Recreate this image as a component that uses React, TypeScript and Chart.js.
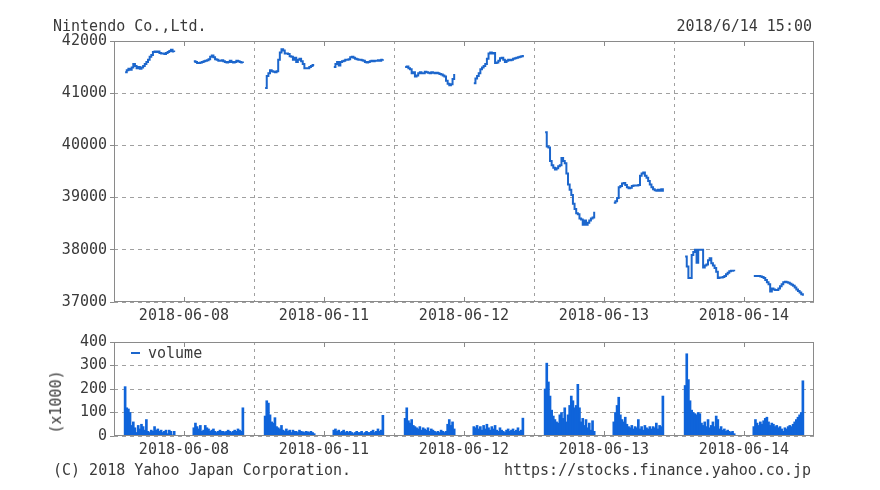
import React, { useEffect, useRef } from 'react';
import { Chart, registerables } from 'chart.js';

Chart.register(...registerables);

// ---------- text ----------
const TITLE = 'Nintendo Co.,Ltd.';
const STAMP = '2018/6/14 15:00';
const COPYRIGHT = '(C) 2018 Yahoo Japan Corporation.';
const SOURCE = 'https://stocks.finance.yahoo.co.jp';
const VOLUME_LABEL = 'volume';
const VOLUME_UNIT = '(x1000)';

// ---------- categories ----------
const DAYS = ['2018-06-08', '2018-06-11', '2018-06-12', '2018-06-13', '2018-06-14'];
const AM_TIMES = ['09:00', '09:05', '09:10', '09:15', '09:20', '09:25', '09:30', '09:35', '09:40', '09:45', '09:50', '09:55', '10:00', '10:05', '10:10', '10:15', '10:20', '10:25', '10:30', '10:35', '10:40', '10:45', '10:50', '10:55', '11:00', '11:05', '11:10', '11:15', '11:20', '11:25', '11:30'];
const PM_TIMES = ['12:30', '12:35', '12:40', '12:45', '12:50', '12:55', '13:00', '13:05', '13:10', '13:15', '13:20', '13:25', '13:30', '13:35', '13:40', '13:45', '13:50', '13:55', '14:00', '14:05', '14:10', '14:15', '14:20', '14:25', '14:30', '14:35', '14:40', '14:45', '14:50', '14:55', '15:00'];

// ---------- price (yen) ----------
const AM_0608 = [41400, 41440, 41470, 41450, 41490, 41560, 41520, 41480, 41500, 41470, 41490, 41520, 41560, 41600, 41640, 41700, 41730, 41790, 41800, 41790, 41800, 41770, 41760, 41760, 41750, 41770, 41790, 41810, 41830, 41800, 41790];
const PM_0608 = [41610, 41600, 41580, 41580, 41590, 41600, 41610, 41620, 41630, 41650, 41700, 41720, 41690, 41650, 41640, 41620, 41620, 41630, 41610, 41600, 41590, 41600, 41620, 41600, 41590, 41600, 41620, 41610, 41600, 41590, 41580];
const AM_0611 = [41100, 41330, 41380, 41440, 41420, 41410, 41400, 41420, 41640, 41780, 41840, 41820, 41760, 41760, 41750, 41710, 41700, 41640, 41680, 41600, 41640, 41660, 41610, 41560, 41480, 41480, 41480, 41500, 41520, 41540, 41540];
const PM_0611 = [41500, 41560, 41600, 41530, 41600, 41610, 41620, 41640, 41640, 41650, 41690, 41700, 41680, 41660, 41650, 41640, 41640, 41630, 41620, 41600, 41590, 41600, 41610, 41620, 41610, 41620, 41620, 41630, 41620, 41640, 41650];
const AM_0612 = [41500, 41510, 41480, 41460, 41380, 41400, 41320, 41340, 41380, 41400, 41380, 41380, 41410, 41400, 41390, 41380, 41400, 41390, 41380, 41390, 41380, 41370, 41360, 41340, 41320, 41240, 41180, 41150, 41170, 41270, 41370];
const PM_0612 = [41190, 41280, 41330, 41380, 41460, 41490, 41520, 41560, 41660, 41760, 41780, 41760, 41770, 41580, 41590, 41620, 41670, 41680, 41640, 41600, 41620, 41640, 41630, 41640, 41660, 41670, 41680, 41690, 41700, 41710, 41730];
const AM_0613 = [40250, 39980, 39960, 39700, 39620, 39570, 39540, 39560, 39600, 39620, 39760, 39700, 39660, 39460, 39250, 39150, 39050, 38880, 38780, 38700, 38680, 38600, 38580, 38480, 38560, 38480, 38520, 38560, 38600, 38620, 38730];
const PM_0613 = [38900, 38930, 38990, 39200, 39220, 39270, 39280, 39240, 39200, 39180, 39190, 39220, 39230, 39230, 39230, 39240, 39420, 39460, 39480, 39420, 39380, 39320, 39250, 39200, 39160, 39140, 39130, 39150, 39130, 39160, 39110];
const AM_0614 = [37870, 37680, 37460, 37460, 37900, 37960, 38000, 37750, 38000, 38000, 38000, 37660, 37700, 37720, 37800, 37840, 37740, 37700, 37650, 37580, 37460, 37470, 37470, 37480, 37500, 37530, 37560, 37590, 37600, 37600, 37590];
const PM_0614 = [37500, 37500, 37500, 37500, 37490, 37480, 37460, 37420, 37380, 37340, 37200, 37260, 37240, 37230, 37230, 37260, 37300, 37340, 37380, 37390, 37380, 37370, 37350, 37330, 37310, 37280, 37240, 37210, 37180, 37150, 37120];

// ---------- volume (x1000 shares) ----------
const VOL_AM_0608 = [210, 120, 115, 100, 45, 60, 35, 15, 45, 30, 50, 40, 25, 70, 20, 15, 25, 20, 40, 25, 30, 20, 25, 15, 20, 25, 10, 25, 20, 5, 20];
const VOL_PM_0608 = [35, 55, 40, 30, 45, 20, 25, 45, 35, 30, 20, 25, 30, 20, 15, 20, 25, 20, 20, 15, 20, 25, 20, 15, 20, 25, 20, 30, 25, 20, 120];
const VOL_AM_0611 = [85, 150, 140, 90, 60, 55, 78, 40, 35, 30, 45, 25, 20, 30, 20, 25, 15, 25, 20, 20, 15, 25, 20, 18, 15, 20, 18, 15, 20, 15, 10];
const VOL_PM_0611 = [25, 30, 20, 25, 15, 20, 25, 15, 20, 15, 20, 15, 10, 15, 20, 15, 15, 20, 10, 15, 20, 15, 15, 20, 25, 15, 20, 30, 20, 25, 88];
const VOL_AM_0612 = [75, 120, 65, 55, 70, 45, 40, 35, 30, 40, 25, 35, 30, 25, 35, 20, 30, 25, 20, 15, 20, 15, 25, 20, 15, 20, 50, 70, 45, 60, 30];
const VOL_PM_0612 = [40, 35, 45, 30, 40, 25, 45, 30, 50, 35, 25, 40, 30, 45, 25, 20, 35, 25, 20, 15, 25, 30, 20, 25, 30, 20, 25, 35, 20, 25, 76];
const VOL_AM_0613 = [200, 310, 230, 170, 110, 85, 70, 60, 55, 90, 100, 75, 120, 60, 90, 130, 170, 150, 120, 130, 220, 120, 60, 75, 45, 70, 35, 55, 25, 65, 20];
const VOL_PM_0613 = [60, 100, 130, 165, 90, 70, 60, 80, 50, 40, 35, 45, 30, 40, 35, 70, 30, 40, 25, 45, 35, 30, 40, 30, 40, 35, 55, 30, 45, 40, 170];
const VOL_AM_0614 = [215, 350, 240, 150, 110, 100, 95, 90, 100, 95, 55, 45, 60, 40, 70, 35, 45, 60, 40, 85, 70, 30, 40, 25, 30, 20, 25, 20, 15, 20, 10];
const VOL_PM_0614 = [40, 70, 55, 45, 60, 50, 65, 75, 80, 60, 45, 55, 50, 40, 45, 35, 40, 30, 20, 35, 30, 40, 45, 40, 50, 60, 70, 80, 90, 100, 235];

const PRICE_AM = [AM_0608, AM_0611, AM_0612, AM_0613, AM_0614];
const PRICE_PM = [PM_0608, PM_0611, PM_0612, PM_0613, PM_0614];
const VOL_AM = [VOL_AM_0608, VOL_AM_0611, VOL_AM_0612, VOL_AM_0613, VOL_AM_0614];
const VOL_PM = [VOL_PM_0608, VOL_PM_0611, VOL_PM_0612, VOL_PM_0613, VOL_PM_0614];

// ---------- axis ranges ----------
const PRICE_MIN = 37000;
const PRICE_MAX = 42000;
const PRICE_STEP = 1000;
const VOL_MIN = 0;
const VOL_MAX = 400;
const VOL_STEP = 100;

// ---------- styles ----------
const FONT_FAMILY = '"DejaVu Sans Mono", monospace';
const FONT_SIZE = 15;
const TEXT = '#3a3a3a';
const GRID = '#a0a0a0';
const FRAME = '#8a8a8a';
const LINE_BLUE = '#1c66cc';
const BAR_BLUE = '#0f64da';
const DAY_SPAN = 428; // minutes of axis per trading day
const AXIS_ORIGIN = '08:26';

const toMin = (t: string) => {
  const [h, m] = t.split(':').map(Number);
  return h * 60 + m;
};
const xOf = (day: number, t: string) => day * DAY_SPAN + toMin(t) - toMin(AXIS_ORIGIN);

function buildPrice() {
  const pts: { x: number; y: number | null }[] = [];
  DAYS.forEach((_, d) => {
    AM_TIMES.forEach((t, i) => pts.push({ x: xOf(d, t), y: PRICE_AM[d][i] }));
    pts.push({ x: xOf(d, '12:00'), y: null });
    PM_TIMES.forEach((t, i) => pts.push({ x: xOf(d, t), y: PRICE_PM[d][i] }));
    pts.push({ x: (d + 1) * DAY_SPAN, y: null });
  });
  return pts;
}

function buildVolume() {
  const pts: { x: number; y: number }[] = [];
  DAYS.forEach((_, d) => {
    AM_TIMES.forEach((t, i) => pts.push({ x: xOf(d, t), y: VOL_AM[d][i] }));
    PM_TIMES.forEach((t, i) => pts.push({ x: xOf(d, t), y: VOL_PM[d][i] }));
  });
  return pts;
}

const font = { family: FONT_FAMILY, size: FONT_SIZE };

function xScale() {
  const half = DAY_SPAN / 2;
  return {
    type: 'linear',
    min: 0,
    max: DAYS.length * DAY_SPAN,
    offset: false,
    afterBuildTicks: (s: any) => {
      s.ticks = Array.from({ length: DAYS.length * 2 + 1 }, (_, k) => ({ value: k * half }));
    },
    afterFit: (s: any) => {
      s.height = 24;
    },
    grid: {
      offset: false,
      drawTicks: false,
      lineWidth: 1,
      color: (c: any) => {
        const v = c.tick ? c.tick.value : 0;
        const k = Math.round(v / half);
        return k % 2 === 0 && k > 0 && k < DAYS.length * 2 ? GRID : 'rgba(0,0,0,0)';
      },
    },
    border: { display: false, dash: [3, 4] },
    ticks: {
      autoSkip: false,
      maxRotation: 0,
      minRotation: 0,
      padding: 5,
      color: TEXT,
      font,
      callback: (v: any) => {
        const k = Math.round(Number(v) / half);
        return k % 2 === 1 ? DAYS[(k - 1) / 2] : '';
      },
    },
  };
}

function yScale(min: number, max: number, step: number) {
  return {
    type: 'linear',
    min,
    max,
    afterFit: (s: any) => {
      s.width = 114;
    },
    grid: { color: GRID, lineWidth: 1, drawTicks: true, tickLength: 4, tickColor: FRAME, tickBorderDash: [] },
    border: { display: false, dash: [4, 4] },
    ticks: { stepSize: step, padding: 3, color: TEXT, font, callback: (v: any) => String(v) },
  };
}

const framePlugin = {
  id: 'frame',
  afterDraw(chart: any) {
    const { ctx, chartArea: a, scales } = chart;
    const x = scales.x;
    ctx.save();
    ctx.strokeStyle = FRAME;
    ctx.lineWidth = 1;
    ctx.setLineDash([]);
    ctx.strokeRect(a.left + 0.5, a.top + 0.5, a.right - a.left - 1, a.bottom - a.top - 1);
    ctx.beginPath();
    DAYS.forEach((_, i) => {
      const px = Math.round(x.getPixelForValue((i + 0.5) * DAY_SPAN)) + 0.5;
      ctx.moveTo(px, a.top);
      ctx.lineTo(px, a.top + 5);
      ctx.moveTo(px, a.bottom);
      ctx.lineTo(px, a.bottom - 5);
    });
    ctx.stroke();
    ctx.restore();
  },
};

export default function App() {
  const priceRef = useRef<HTMLCanvasElement>(null);
  const volRef = useRef<HTMLCanvasElement>(null);

  useEffect(() => {
    const priceChart = new Chart(priceRef.current as HTMLCanvasElement, {
      type: 'line',
      data: {
        datasets: [
          {
            label: 'price',
            data: buildPrice() as any,
            borderColor: LINE_BLUE,
            borderWidth: 2,
            pointRadius: 0,
            stepped: true,
            spanGaps: false,
            fill: false,
          },
        ],
      },
      options: {
        responsive: false,
        animation: false,
        devicePixelRatio: 1,
        events: [],
        layout: { padding: { left: 0, right: 66, top: 41, bottom: 4 } },
        plugins: { legend: { display: false }, tooltip: { enabled: false } },
        scales: { x: xScale() as any, y: yScale(PRICE_MIN, PRICE_MAX, PRICE_STEP) as any },
      },
      plugins: [framePlugin],
    });

    const volChart = new Chart(volRef.current as HTMLCanvasElement, {
      type: 'bar',
      data: {
        datasets: [
          {
            label: VOLUME_LABEL,
            data: buildVolume() as any,
            backgroundColor: BAR_BLUE,
            borderWidth: 0,
            barThickness: 2,
          },
        ],
      },
      options: {
        responsive: false,
        animation: false,
        devicePixelRatio: 1,
        events: [],
        layout: { padding: { left: 0, right: 66, top: 11, bottom: 30 } },
        plugins: { legend: { display: false }, tooltip: { enabled: false } },
        scales: { x: xScale() as any, y: yScale(VOL_MIN, VOL_MAX, VOL_STEP) as any },
      },
      plugins: [framePlugin],
    });

    return () => {
      priceChart.destroy();
      volChart.destroy();
    };
  }, []);

  const textBase: React.CSSProperties = {
    position: 'absolute',
    whiteSpace: 'pre',
    lineHeight: 'normal',
    fontFamily: FONT_FAMILY,
    fontSize: FONT_SIZE,
    color: TEXT,
  };

  return (
    <div style={{ position: 'absolute', left: 0, top: 0, width: 880, height: 490, background: '#fff', overflow: 'hidden' }}>
      <canvas ref={priceRef} width={880} height={330} style={{ position: 'absolute', left: 0, top: 0 }} />
      <canvas ref={volRef} width={880} height={160} style={{ position: 'absolute', left: 0, top: 330 }} />
      <div style={{ ...textBase, left: 53, top: 17 }}>{TITLE}</div>
      <div style={{ ...textBase, right: 68, top: 17 }}>{STAMP}</div>
      <div style={{ position: 'absolute', left: 131, top: 352, width: 9, height: 2, background: LINE_BLUE }} />
      <div style={{ ...textBase, left: 148, top: 344 }}>{VOLUME_LABEL}</div>
      <div style={{ ...textBase, left: 56, top: 402, transform: 'translate(-50%, -50%) rotate(-90deg)' }}>{VOLUME_UNIT}</div>
      <div style={{ ...textBase, left: 53, top: 461 }}>{COPYRIGHT}</div>
      <div style={{ ...textBase, right: 69, top: 461 }}>{SOURCE}</div>
    </div>
  );
}
